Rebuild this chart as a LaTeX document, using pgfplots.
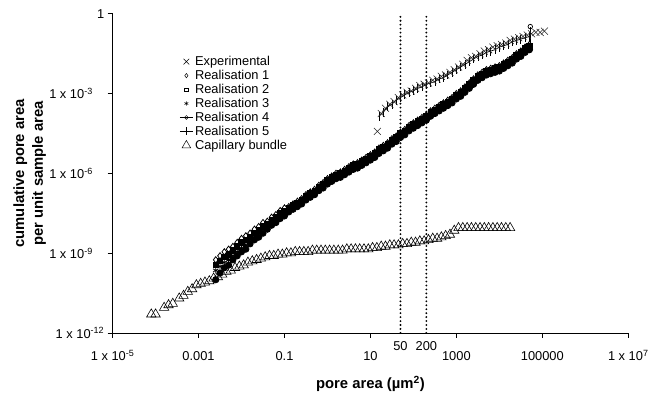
\documentclass[border=0pt]{standalone}
\usepackage{fontspec}
\setmainfont{Liberation Sans}
\usepackage{pgfplots}
\usepackage{pgfplotstable}
\pgfplotsset{compat=1.18}
\pgfplotsset{
  LI/.style={legend image code/.code={\draw[mark repeat=2,mark phase=2,##1] plot coordinates {(0pt,0pt) (6.5pt,0pt) (13pt,0pt)};}}
}

\pgfplotstableread{
x y
14.5 3.80e-5
17.8 1.78e-4
22.4 2.82e-4
28.2 3.98e-4
35.5 5.01e-4
44.7 7.08e-4
56.2 8.91e-4
70.8 1.12e-3
89.1 1.26e-3
112 1.58e-3
141 2.00e-3
178 2.24e-3
224 2.51e-3
282 3.16e-3
355 3.55e-3
447 4.47e-3
562 5.01e-3
708 6.31e-3
891 7.94e-3
1120 1.00e-2
1410 1.26e-2
1780 1.78e-2
2240 2.24e-2
2820 2.51e-2
3550 3.16e-2
4470 3.98e-2
5620 4.47e-2
7080 5.62e-2
8910 6.31e-2
11200 7.08e-2
14100 7.94e-2
17800 0.100
22400 0.112
28200 0.126
35500 0.141
44700 0.158
56200 0.178
70800 0.200
89100 0.200
112000 0.224
}\exptab

\pgfplotstableread{
x r1 r2 r3 r4
2.51e-3 5.62e-10 3.55e-10 2.24e-10 1.00e-10
3.16e-3 7.94e-10 5.01e-10 3.16e-10 1.78e-10
3.98e-3 1.12e-9 7.08e-10 4.47e-10 2.82e-10
5.01e-3 1.41e-9 8.91e-10 5.62e-10 3.55e-10
6.31e-3 1.78e-9 1.26e-9 7.94e-10 5.62e-10
7.94e-3 2.51e-9 1.78e-9 1.12e-9 7.94e-10
1.00e-2 3.55e-9 2.51e-9 1.58e-9 1.12e-9
1.26e-2 4.47e-9 3.16e-9 2.00e-9 1.41e-9
1.58e-2 5.62e-9 3.98e-9 3.16e-9 2.24e-9
2.00e-2 7.94e-9 5.62e-9 4.47e-9 3.16e-9
2.51e-2 1.00e-8 7.08e-9 5.62e-9 3.98e-9
3.16e-2 1.41e-8 1.00e-8 7.94e-9 5.62e-9
3.98e-2 1.58e-8 1.26e-8 1.00e-8 7.94e-9
5.01e-2 2.24e-8 1.78e-8 1.41e-8 1.12e-8
6.31e-2 2.82e-8 2.24e-8 1.78e-8 1.41e-8
7.94e-2 3.98e-8 3.16e-8 2.51e-8 2.00e-8
0.100 5.01e-8 3.98e-8 3.16e-8 2.51e-8
0.126 5.62e-8 5.01e-8 3.98e-8 3.55e-8
0.158 7.08e-8 6.31e-8 5.01e-8 4.47e-8
0.200 8.91e-8 7.94e-8 6.31e-8 5.62e-8
0.251 1.12e-7 1.00e-7 7.94e-8 7.08e-8
0.316 1.58e-7 1.41e-7 1.12e-7 1.00e-7
0.398 2.00e-7 1.78e-7 1.41e-7 1.26e-7
0.501 2.51e-7 2.24e-7 1.78e-7 1.58e-7
0.631 3.55e-7 3.16e-7 2.51e-7 2.24e-7
0.794 4.47e-7 3.98e-7 3.16e-7 2.82e-7
1.00 6.31e-7 5.62e-7 4.47e-7 3.98e-7
1.26 7.94e-7 7.08e-7 5.62e-7 5.01e-7
1.58 1.00e-6 8.91e-7 7.08e-7 6.31e-7
2.00 1.12e-6 1.00e-6 7.94e-7 7.08e-7
2.51 1.41e-6 1.26e-6 1.00e-6 8.91e-7
3.16 1.78e-6 1.58e-6 1.26e-6 1.12e-6
3.98 2.24e-6 2.00e-6 1.58e-6 1.41e-6
5.01 2.51e-6 2.24e-6 1.78e-6 1.58e-6
6.31 3.16e-6 2.82e-6 2.24e-6 2.00e-6
7.94 3.98e-6 3.55e-6 2.82e-6 2.51e-6
10.0 5.01e-6 4.47e-6 3.55e-6 3.16e-6
12.6 6.31e-6 5.62e-6 4.47e-6 3.98e-6
15.8 8.91e-6 7.94e-6 6.31e-6 5.62e-6
20.0 1.12e-5 1.00e-5 7.94e-6 7.08e-6
25.1 1.41e-5 1.26e-5 1.00e-5 8.91e-6
31.6 2.00e-5 1.78e-5 1.41e-5 1.26e-5
39.8 2.51e-5 2.24e-5 1.78e-5 1.58e-5
50.1 3.55e-5 3.16e-5 2.51e-5 2.24e-5
63.1 4.47e-5 3.98e-5 3.16e-5 2.82e-5
79.4 6.31e-5 5.62e-5 4.47e-5 3.98e-5
100 7.94e-5 7.08e-5 5.62e-5 5.01e-5
126 1.00e-4 8.91e-5 7.08e-5 6.31e-5
158 1.26e-4 1.12e-4 8.91e-5 7.94e-5
200 1.58e-4 1.41e-4 1.12e-4 1.00e-4
251 2.24e-4 2.00e-4 1.58e-4 1.41e-4
316 2.82e-4 2.51e-4 2.00e-4 1.78e-4
398 3.55e-4 3.16e-4 2.51e-4 2.24e-4
501 4.47e-4 3.98e-4 3.16e-4 2.82e-4
631 5.62e-4 5.01e-4 3.98e-4 3.55e-4
794 7.08e-4 6.31e-4 5.01e-4 4.47e-4
1000 1.00e-3 8.91e-4 7.08e-4 6.31e-4
1260 1.26e-3 1.12e-3 8.91e-4 7.94e-4
1580 1.78e-3 1.58e-3 1.26e-3 1.12e-3
2000 2.51e-3 2.24e-3 1.78e-3 1.58e-3
2510 3.55e-3 3.16e-3 2.51e-3 2.24e-3
3160 5.01e-3 4.47e-3 3.55e-3 3.16e-3
3980 6.31e-3 5.62e-3 4.47e-3 3.98e-3
5010 7.94e-3 7.08e-3 5.62e-3 5.01e-3
6310 8.91e-3 7.94e-3 6.31e-3 5.62e-3
7940 1.00e-2 8.91e-3 7.08e-3 6.31e-3
10000 1.12e-2 1.00e-2 7.94e-3 7.08e-3
12600 1.41e-2 1.26e-2 1.00e-2 8.91e-3
15800 1.78e-2 1.58e-2 1.26e-2 1.12e-2
20000 2.24e-2 2.00e-2 1.58e-2 1.41e-2
25100 3.16e-2 2.82e-2 2.24e-2 2.00e-2
31600 3.98e-2 3.55e-2 2.82e-2 2.51e-2
39800 5.62e-2 5.01e-2 3.98e-2 3.55e-2
50100 7.08e-2 6.31e-2 5.01e-2 4.47e-2
}\realtab

\pgfplotstableread{
x y
15.8 1.41e-4
20.0 2.00e-4
25.1 3.16e-4
31.6 3.98e-4
39.8 5.62e-4
50.1 7.08e-4
63.1 8.91e-4
79.4 1.12e-3
100 1.26e-3
126 1.58e-3
158 1.78e-3
200 2.24e-3
251 2.51e-3
316 2.82e-3
398 3.55e-3
501 3.98e-3
631 5.01e-3
794 6.31e-3
1000 7.94e-3
1260 1.00e-2
1580 1.26e-2
2000 1.58e-2
2510 2.00e-2
3160 2.51e-2
3980 2.82e-2
5010 3.55e-2
6310 3.98e-2
7940 4.47e-2
10000 5.62e-2
12600 6.31e-2
15800 7.08e-2
20000 8.91e-2
25100 0.100
31600 0.112
39800 0.126
50100 0.141
}\rfivetab

\pgfplotstableread{
x y
7.94e-5 5.01e-12
1.00e-4 5.01e-12
1.58e-4 8.91e-12
2.00e-4 1.12e-11
2.51e-4 1.26e-11
3.55e-4 2.00e-11
4.47e-4 2.51e-11
5.62e-4 3.55e-11
7.08e-4 4.47e-11
8.91e-4 6.31e-11
1.12e-3 7.08e-11
1.41e-3 7.94e-11
1.78e-3 8.91e-11
2.24e-3 1.12e-10
2.82e-3 1.26e-10
3.55e-3 1.58e-10
4.47e-3 2.00e-10
5.62e-3 2.24e-10
7.08e-3 2.82e-10
8.91e-3 3.16e-10
1.12e-2 3.55e-10
1.41e-2 4.47e-10
1.78e-2 5.01e-10
2.24e-2 5.62e-10
2.82e-2 6.31e-10
3.55e-2 7.08e-10
4.47e-2 7.94e-10
5.62e-2 7.94e-10
7.08e-2 8.91e-10
8.91e-2 8.91e-10
0.112 1.00e-9
0.141 1.00e-9
0.178 1.12e-9
0.224 1.12e-9
0.282 1.12e-9
0.355 1.12e-9
0.447 1.26e-9
0.562 1.26e-9
0.708 1.26e-9
0.891 1.26e-9
1.12 1.26e-9
1.41 1.26e-9
1.78 1.26e-9
2.24 1.26e-9
2.82 1.41e-9
3.55 1.41e-9
4.47 1.41e-9
5.62 1.41e-9
7.08 1.41e-9
8.91 1.41e-9
11.2 1.58e-9
14.1 1.58e-9
17.8 1.78e-9
22.4 1.78e-9
28.2 2.00e-9
35.5 2.00e-9
44.7 2.00e-9
56.2 2.24e-9
70.8 2.24e-9
89.1 2.51e-9
112 2.51e-9
141 2.82e-9
178 2.82e-9
224 3.16e-9
282 3.55e-9
355 3.55e-9
447 3.98e-9
562 4.47e-9
708 5.01e-9
891 7.08e-9
1120 8.91e-9
1410 8.91e-9
1780 8.91e-9
2240 8.91e-9
2820 8.91e-9
3550 8.91e-9
4470 8.91e-9
5620 8.91e-9
7080 8.91e-9
8910 8.91e-9
11200 8.91e-9
14100 8.91e-9
17800 8.91e-9
}\captab

\begin{document}
\begin{tikzpicture}
\begin{axis}[
  scale only axis, width=522pt, height=323pt,
  xmode=log, ymode=log,
  xmin=1e-5, xmax=1e7, ymin=1e-12, ymax=1,
  axis x line*=bottom, axis y line*=left,
  axis line style={-, line width=0.8pt, black},
  tick align=outside, major tick length=5pt,
  tick style={black, line width=0.8pt},
  minor xtick={}, minor ytick={},
  xtick={1e-5,1e-3,1e-1,1e1,1e3,1e5,1e7},
  xticklabels={1 x 10\textsuperscript{-5},0.001,0.1,10,1000,100000,1 x 10\textsuperscript{7}},
  ytick={1e-12,1e-9,1e-6,1e-3,1},
  yticklabels={1 x 10\textsuperscript{-12},1 x 10\textsuperscript{-9}\phantom{-9},1 x 10\textsuperscript{-6}\phantom{-6},1 x 10\textsuperscript{-3}\phantom{-3},1},
  /pgf/number format/assume math mode=true,
  tick label style={font=\fontsize{13}{15}\selectfont},
  xticklabel style={anchor=base, yshift=-23pt},
  extra x ticks={50,200},
  extra x tick labels={50,200},
  extra x tick style={tick style={draw=none}, xticklabel style={yshift=10pt}},
  xlabel={pore area (µm\textsuperscript{2})},
  xlabel style={font=\bfseries\fontsize{15}{18}\selectfont, at={(rel axis cs:0.5,0)}, anchor=base, yshift=-56pt},
  ylabel={cumulative pore area\\per unit sample area},
  ylabel style={font=\bfseries\fontsize{15}{19}\selectfont, align=center, at={(rel axis cs:0,0.5)}, anchor=center, yshift=84pt},
  legend cell align=left,
  legend style={at={(0.124,0.880)}, anchor=north west, draw=none, fill=none,
    font=\fontsize{13}{15}\selectfont, row sep=-0.8pt},
]
\coordinate (ll) at (rel axis cs:0,0);
\coordinate (ur) at (rel axis cs:1,1);

% legend samples
\addlegendimage{only marks, mark=x, mark size=4pt, black, line width=0.5pt, LI}
\addlegendentry{Experimental}
\addlegendimage{only marks, mark=diamond, mark size=2.2pt, black, line width=0.5pt, LI}
\addlegendentry{Realisation 1}
\addlegendimage{only marks, mark=square, mark size=1.8pt, black, line width=0.5pt, LI}
\addlegendentry{Realisation 2}
\addlegendimage{only marks, mark=asterisk, mark size=2.2pt, black, line width=0.5pt, LI}
\addlegendentry{Realisation 3}
\addlegendimage{black, line width=0.5pt, mark=o, mark size=2pt, LI}
\addlegendentry{Realisation 4}
\addlegendimage{black, line width=0.5pt, mark=|, mark size=4pt, LI}
\addlegendentry{Realisation 5}
\addlegendimage{only marks, mark=triangle, mark size=5pt, black, line width=0.5pt, LI}
\addlegendentry{Capillary bundle}

% data
\addplot[forget plot, only marks, mark=triangle, mark size=5.5pt, black, line width=0.6pt] table[x=x,y=y]{\captab};
\addplot[forget plot, only marks, mark=diamond, mark size=3.2pt, black, line width=0.8pt] table[x=x,y=r1]{\realtab};
\addplot[forget plot, only marks, mark=square*, mark size=2.7pt, black, line width=0.8pt] table[x=x,y=r2]{\realtab};
\addplot[forget plot, only marks, mark=asterisk, mark size=3.2pt, black, line width=0.8pt] table[x=x,y=r3]{\realtab};
\addplot[forget plot, black, line width=0.8pt, mark=*, mark size=3.2pt] table[x=x,y=r4]{\realtab};
\addplot[forget plot, black, line width=0.7pt, mark=o, mark size=2.3pt] coordinates {(5.25e4,5.0e-2) (5.25e4,0.331)};
\addplot[forget plot, black, line width=0.7pt, mark=|, mark size=4.5pt] table[x=x,y=y]{\rfivetab};
\addplot[forget plot, only marks, mark=x, mark size=5pt, black!85, line width=0.55pt] table[x=x,y=y]{\exptab};

\addplot[forget plot, black, line width=2.1pt, line cap=round, dash pattern=on 0pt off 4pt] coordinates {(50,1e-12) (50,1)};
\addplot[forget plot, black, line width=2.1pt, line cap=round, dash pattern=on 0pt off 4pt] coordinates {(200,1e-12) (200,1)};
\end{axis}
\pgfresetboundingbox
\path ([shift={(-114pt,-66pt)}]ll) rectangle ([shift={(22pt,14pt)}]ur);
\end{tikzpicture}
\end{document}
